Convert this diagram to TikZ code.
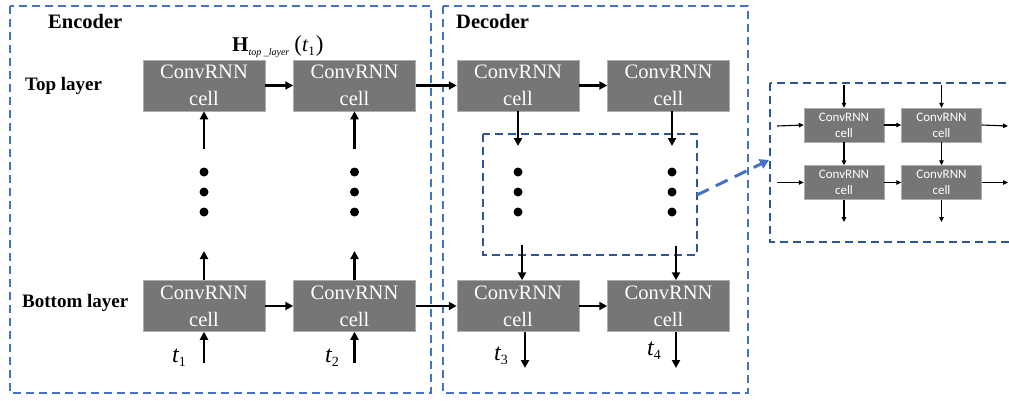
\documentclass[tikz,border=0pt]{standalone}
\usepackage{fontspec}
\setmainfont{Liberation Serif}
\newfontfamily\calibrifont{Carlito}
\usetikzlibrary{arrows.meta,calc}
\definecolor{cellgray}{RGB}{118,118,118}
\definecolor{boxblue}{RGB}{68,114,196}
\definecolor{darkblue}{RGB}{47,85,151}
\tikzset{
  cellbox/.style={fill=cellgray,draw=cellgray!60,line width=0.5pt,minimum width=122pt,minimum height=51pt,inner sep=0pt,
    text=white,align=center,font=\fontsize{20.5}{27}\selectfont},
  smallcell/.style={fill=cellgray,draw=cellgray!60,line width=0.4pt,minimum width=80pt,minimum height=34pt,inner sep=0pt,
    text=white,align=center,font=\calibrifont\fontsize{13}{16}\selectfont},
  arr/.style={line width=2.4pt,-{Triangle[width=8pt,length=8pt]}},
  sarr/.style={line width=1.1pt,-{Triangle[width=4.5pt,length=5pt]}},
  outerbox/.style={draw=boxblue,line width=1.5pt,dash pattern=on 8pt off 5pt},
  innerbox/.style={draw=darkblue,line width=1.5pt,dash pattern=on 8pt off 5pt},
  dotnode/.style={circle,fill=black,inner sep=0pt,minimum size=9pt},
  lab/.style={font=\bfseries\fontsize{19}{19}\selectfont,anchor=base west,inner sep=0pt},
  tlab/.style={font=\itshape\fontsize{24}{24}\selectfont,anchor=base west,inner sep=0pt},
}
\newcommand{\tsub}[1]{\textit{t}\raisebox{-0.45ex}{\upshape\fontsize{14}{14}\selectfont #1}}
\begin{document}
\begin{tikzpicture}[x=1pt,y=-1pt]
\useasboundingbox (0,0) rectangle (1009,400);
\clip (0,0) rectangle (1009,400);
% frames
\draw[outerbox] (10,6) rectangle (431,393);
\draw[outerbox] (443,6) rectangle (748,393);
\draw[innerbox] (483,134) rectangle (697,255);
\draw[innerbox] (770,83) rectangle (1015,242);
% labels
\node[lab,font=\bfseries\fontsize{20.5}{20.5}\selectfont] (enc) at (48,28) {Encoder};
\node[lab,font=\bfseries\fontsize{20.5}{20.5}\selectfont] (dec) at (456,28) {Decoder};
\node[lab] (top) at (25,90) {Top layer};
\node[lab] (bot) at (22,307) {Bottom layer};
\node[anchor=base west,inner sep=0pt,font=\fontsize{21}{21}\selectfont] (H) at (232,51)
  {\textbf{H}\raisebox{-0.5ex}{\itshape\fontsize{10}{10}\selectfont top \_layer}\hspace{5pt}{\fontsize{23}{23}\selectfont(}\textit{t}\raisebox{-0.45ex}{\fontsize{13}{13}\selectfont 1}\hspace{1pt}{\fontsize{23}{23}\selectfont)}};
% cells
\node[cellbox] (E1T) at (204,85.5) {ConvRNN\\cell};
\node[cellbox] (E2T) at (354.5,85.5) {ConvRNN\\cell};
\node[cellbox] (D1T) at (518,85.5) {ConvRNN\\cell};
\node[cellbox] (D2T) at (668.5,85.5) {ConvRNN\\cell};
\node[cellbox] (E1B) at (204,306) {ConvRNN\\cell};
\node[cellbox] (E2B) at (354.5,306) {ConvRNN\\cell};
\node[cellbox] (D1B) at (518,306) {ConvRNN\\cell};
\node[cellbox] (D2B) at (668.5,306) {ConvRNN\\cell};
% horizontal arrows
\draw[arr] (E1T) -- (E2T);
\draw[arr] (E2T) -- (D1T);
\draw[arr] (D1T) -- (D2T);
\draw[arr] (E1B) -- (E2B);
\draw[arr] (E2B) -- (D1B);
\draw[arr] (D1B) -- (D2B);
% encoder verticals
\coordinate (e1u) at (204,149);
\coordinate (e2u) at (354.5,149);
\coordinate (e1d) at (204,251);
\coordinate (e2d) at (354.5,251);
\coordinate (e1i) at (204,363);
\coordinate (e2i) at (354.5,363);
\draw[arr] (e1u) -- (E1T.south);
\draw[arr] (e2u) -- (E2T.south);
\draw[arr] (E1B.north) -- (e1d);
\draw[arr] (E2B.north) -- (e2d);
\draw[arr] (e1i) -- (E1B.south);
\draw[arr] (e2i) -- (E2B.south);
\foreach \n/\x in {a/204,b/354.5,c/518,d/672}{
  \node[dotnode] (dot\n1) at (\x,172) {};
  \node[dotnode] (dot\n2) at (\x,192) {};
  \node[dotnode] (dot\n3) at (\x,212) {};
}
% decoder verticals
\coordinate (d1a) at (518,146);
\coordinate (d2a) at (672,146);
\draw[arr] (D1T.south) -- (d1a);
\draw[arr] (D2T.south -| d2a) -- (d2a);
\coordinate (d1b) at (522,245);
\coordinate (d2b) at (676,246);
\draw[arr] (d1b) -- (D1B.north -| d1b);
\draw[arr] (d2b) -- (D2B.north -| d2b);
\coordinate (d1o) at (525,368);
\coordinate (d2o) at (676,368);
\draw[arr] (D1B.south -| d1o) -- (d1o);
\draw[arr] (D2B.south -| d2o) -- (d2o);
% t labels
\node[tlab] (t1) at (172,362) {\tsub{1}};
\node[tlab] (t2) at (325,362) {\tsub{2}};
\node[tlab] (t3) at (494,360) {\tsub{3}};
\node[tlab] (t4) at (647,355) {\tsub{4}};
% zoom arrow
\coordinate (za) at (697,195);
\coordinate (zb) at (769,160);
\draw[draw=boxblue,line width=3pt,dash pattern=on 13pt off 8pt,-{Triangle[width=10pt,length=9pt]}] (za) -- (zb);
% small cells
\node[smallcell] (SA) at (844,125) {ConvRNN\\cell};
\node[smallcell] (SB) at (941.5,125) {ConvRNN\\cell};
\node[smallcell] (SC) at (844,182.5) {ConvRNN\\cell};
\node[smallcell] (SD) at (941.5,182.5) {ConvRNN\\cell};
\coordinate (sa0) at (844,85);
\coordinate (sb0) at (941.5,85);
\coordinate (sl1) at (777,126);
\coordinate (sl2) at (777,182.5);
\coordinate (sr1) at (1008,126);
\coordinate (sr2) at (1008,182.5);
\coordinate (sc1) at (844,222);
\coordinate (sd1) at (941.5,222);
\draw[sarr] (sa0) -- (SA.north);
\draw[sarr] (sb0) -- (SB.north);
\draw[sarr] (sl1) -- (SA.west);
\draw[sarr] (sl2) -- (SC.west);
\draw[sarr] (SA) -- (SB);
\draw[sarr] (SC) -- (SD);
\draw[sarr] (SB.east) -- (sr1);
\draw[sarr] (SD.east) -- (sr2);
\draw[sarr] (SA) -- (SC);
\draw[sarr] (SB) -- (SD);
\draw[sarr] (SC.south) -- (sc1);
\draw[sarr] (SD.south) -- (sd1);
\end{tikzpicture}
\end{document}
